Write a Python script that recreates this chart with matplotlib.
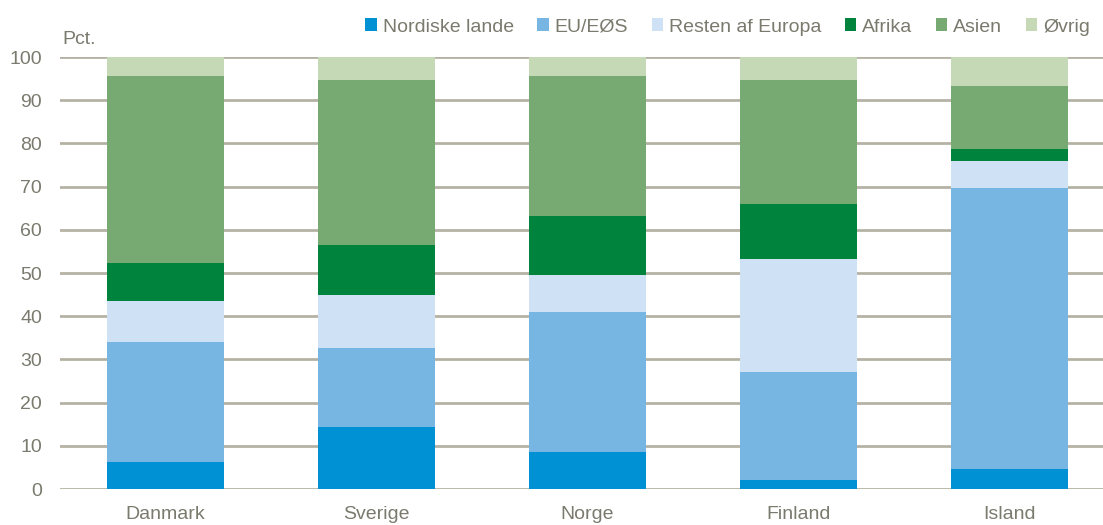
import matplotlib
matplotlib.use("Agg")
import matplotlib.pyplot as plt
from matplotlib import font_manager
from matplotlib.patches import Patch

names = {f.name for f in font_manager.fontManager.ttflist}
fam = "Liberation Sans Narrow" if "Liberation Sans Narrow" in names else "Liberation Sans"
plt.rcParams['font.family'] = [fam, 'DejaVu Sans']

countries = ["Danmark", "Sverige", "Norge", "Finland", "Island"]
series = ["Nordiske lande", "EU/EØS", "Resten af Europa", "Afrika", "Asien", "Øvrig"]
nordiske = [6.3, 14.4, 8.6, 2.1, 4.6]
eu = [27.7, 18.2, 32.4, 25.0, 65.1]
resten = [9.5, 12.3, 8.5, 26.1, 6.2]
afrika = [8.8, 11.6, 13.7, 12.8, 2.8]
asien = [43.3, 38.2, 32.4, 28.7, 14.6]
ovrig = [4.4, 5.3, 4.4, 5.3, 6.7]
colors = ["#0091d5", "#77b5e3", "#cfe1f5", "#00843d", "#77aa72", "#c6d9b7"]

data = [nordiske, eu, resten, afrika, asien, ovrig]
text_col = "#7a7a6e"
grid_col = "#b5b2a5"

fig = plt.figure(figsize=(11.03, 5.25), dpi=100)
ax = fig.add_axes([60/1103, 1-489/525, 1043/1103, 432/525])
x = list(range(len(countries)))
bottom = [0.0]*len(countries)
for vals, c, name in zip(data, colors, series):
    ax.bar(x, vals, bottom=bottom, width=0.55, color=c, label=name, zorder=3)
    bottom = [b+v for b, v in zip(bottom, vals)]

ax.set_ylim(0, 100)
ax.set_xlim(-0.5, 4.443)
ax.set_yticks(range(0, 101, 10))
ax.grid(axis='y', color=grid_col, linewidth=2, zorder=0)
for s in ax.spines.values():
    s.set_visible(False)
ax.tick_params(axis='both', length=0, labelsize=14, colors=text_col)
ax.tick_params(axis='y', pad=13)
ax.tick_params(axis='x', pad=12)
ax.set_xticks(x)
ax.set_xticklabels(countries)
fig.text(62/1103, 1-40/525, "Pct.", fontsize=14, color=text_col, va='center', ha='left')

handles = [Patch(facecolor=c, label=n) for c, n in zip(colors, series)]
leg = fig.legend(handles=handles, loc='center right', bbox_to_anchor=(1090/1103, 1-27/525),
                 ncol=6, frameon=False, fontsize=14, handlelength=0.6, handleheight=0.6,
                 handletextpad=0.3, columnspacing=1.2, labelcolor=text_col,
                 borderaxespad=0, borderpad=0)
fig.savefig("out.png", dpi=100)
